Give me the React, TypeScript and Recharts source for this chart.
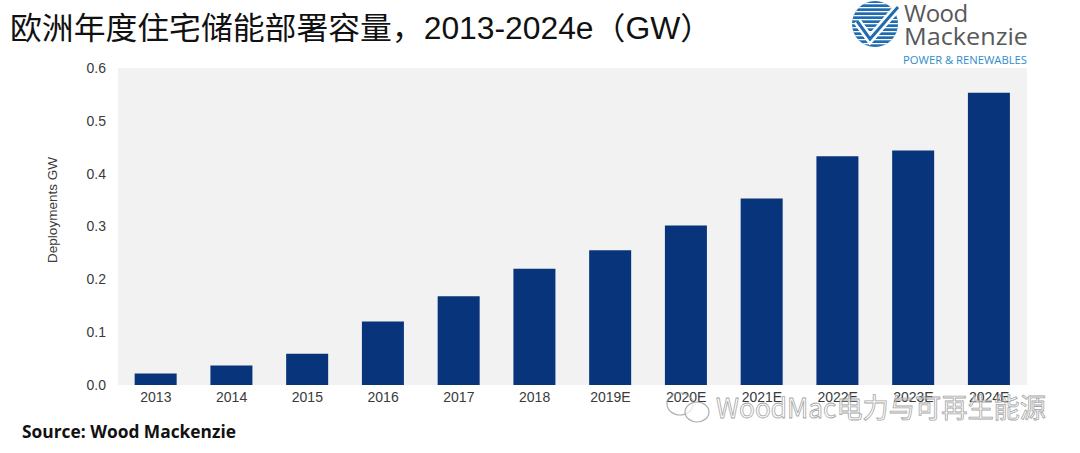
import { Bar, BarChart, CartesianGrid, XAxis, YAxis } from "recharts";

const years = [
  "2013",
  "2014",
  "2015",
  "2016",
  "2017",
  "2018",
  "2019E",
  "2020E",
  "2021E",
  "2022E",
  "2023E",
  "2024E",
];

const deployments = [
  0.022, 0.037, 0.059, 0.12, 0.168, 0.22, 0.255, 0.302, 0.353, 0.433, 0.444, 0.553,
];

const yTicks = [0, 0.1, 0.2, 0.3, 0.4, 0.5, 0.6];

const data = years.map((year, i) => ({ year, value: deployments[i] }));

const tickStyle = {
  fontFamily: "'Liberation Sans', Arial, sans-serif",
  fontSize: 14,
  fill: "#3a3a3a",
};

function Logo() {
  const stripes = [];
  for (let y = 3; y < 48; y += 4) stripes.push(y);
  return (
    <svg
      width={200}
      height={70}
      style={{ position: "absolute", left: 845, top: 0 }}
    >
      <defs>
        <clipPath id="logoClip">
          <circle cx={30} cy={24} r={23} />
        </clipPath>
      </defs>
      <circle cx={30} cy={24} r={23} fill="#1f6db0" />
      <g clipPath="url(#logoClip)">
        {stripes.map((y) => (
          <rect key={y} x={0} y={y} width={60} height={1.3} fill="#ffffff" />
        ))}
      </g>
      <polyline
        points="12,21 25,39 53,7"
        fill="none"
        stroke="#ffffff"
        strokeWidth={8}
      />
      <polyline
        points="12,21 25,39 53,7"
        fill="none"
        stroke="#1f6db0"
        strokeWidth={3}
      />
      <text
        x={59}
        y={22}
        fontFamily="'Open Sans', sans-serif"
        fontSize={24}
        fill="#58585a"
        letterSpacing={-0.5}
      >
        Wood
      </text>
      <text
        x={59}
        y={45}
        fontFamily="'Open Sans', sans-serif"
        fontSize={24}
        fill="#58585a"
        textLength={124}
        lengthAdjust="spacingAndGlyphs"
      >
        Mackenzie
      </text>
      <text
        x={58}
        y={64}
        fontFamily="'Open Sans', sans-serif"
        fontSize={10.5}
        fill="#2f8ccb"
        textLength={124}
        lengthAdjust="spacingAndGlyphs"
      >
        POWER &amp; RENEWABLES
      </text>
    </svg>
  );
}

function Overlay() {
  return (
    <svg
      width={1080}
      height={453}
      style={{ position: "absolute", left: 0, top: 0, pointerEvents: "none" }}
    >
      <text
        x={10}
        y={39}
        fontFamily="'Liberation Sans', 'Noto Sans CJK SC', sans-serif"
        fontSize={31}
        fill="#111111"
        textLength={702}
        lengthAdjust="spacingAndGlyphs"
      >
        欧洲年度住宅储能部署容量，2013-2024e（GW）
      </text>
      <text
        x={57}
        y={210}
        transform="rotate(-90 57 210)"
        textAnchor="middle"
        fontFamily="'Liberation Sans', Arial, sans-serif"
        fontSize={13.5}
        fill="#3a3a3a"
      >
        Deployments GW
      </text>
      <text
        x={22}
        y={438}
        fontFamily="'Open Sans', sans-serif"
        fontWeight={700}
        fontSize={17}
        fill="#111111"
        textLength={214}
        lengthAdjust="spacingAndGlyphs"
      >
        Source: Wood Mackenzie
      </text>
      <g opacity={0.8}>
        <ellipse cx={680} cy={404} rx={13} ry={11} fill="none" stroke="#9a9a9a" strokeWidth={1.2} />
        <ellipse cx={697} cy={412} rx={12} ry={10} fill="rgba(255,255,255,0.7)" stroke="#9a9a9a" strokeWidth={1.2} />
        <text
          x={716}
          y={418}
          fontFamily="'Noto Sans CJK SC', sans-serif"
          fontSize={27}
          fill="rgba(255,255,255,0.7)"
          stroke="#8e8e8e"
          strokeWidth={0.8}
          textLength={330}
          lengthAdjust="spacingAndGlyphs"
        >
          WoodMac电力与可再生能源
        </text>
      </g>
    </svg>
  );
}

export default function App() {
  return (
    <div
      style={{
        position: "absolute",
        left: 0,
        top: 0,
        width: 1080,
        height: 453,
        background: "#ffffff",
        overflow: "hidden",
      }}
    >
      <BarChart
        width={1080}
        height={453}
        data={data}
        margin={{ top: 68, right: 53, bottom: 38, left: 58 }}
        barCategoryGap="22%"
      >
        <CartesianGrid
          horizontal={false}
          vertical={false}
          fill="#f2f2f2"
          stroke="none"
        />
        <XAxis
          dataKey="year"
          axisLine={false}
          tickLine={false}
          tickSize={6}
          tickMargin={1}
          height={30}
          tick={tickStyle}
          interval={0}
        />
        <YAxis
          domain={[0, 0.6]}
          ticks={yTicks}
          axisLine={false}
          tickLine={false}
          tickSize={6}
          tickMargin={6}
          width={60}
          tick={tickStyle}
          tickFormatter={(v: number) => v.toFixed(1)}
        />
        <Bar dataKey="value" fill="#07347a" isAnimationActive={false} />
      </BarChart>
      <Overlay />
      <Logo />
    </div>
  );
}
